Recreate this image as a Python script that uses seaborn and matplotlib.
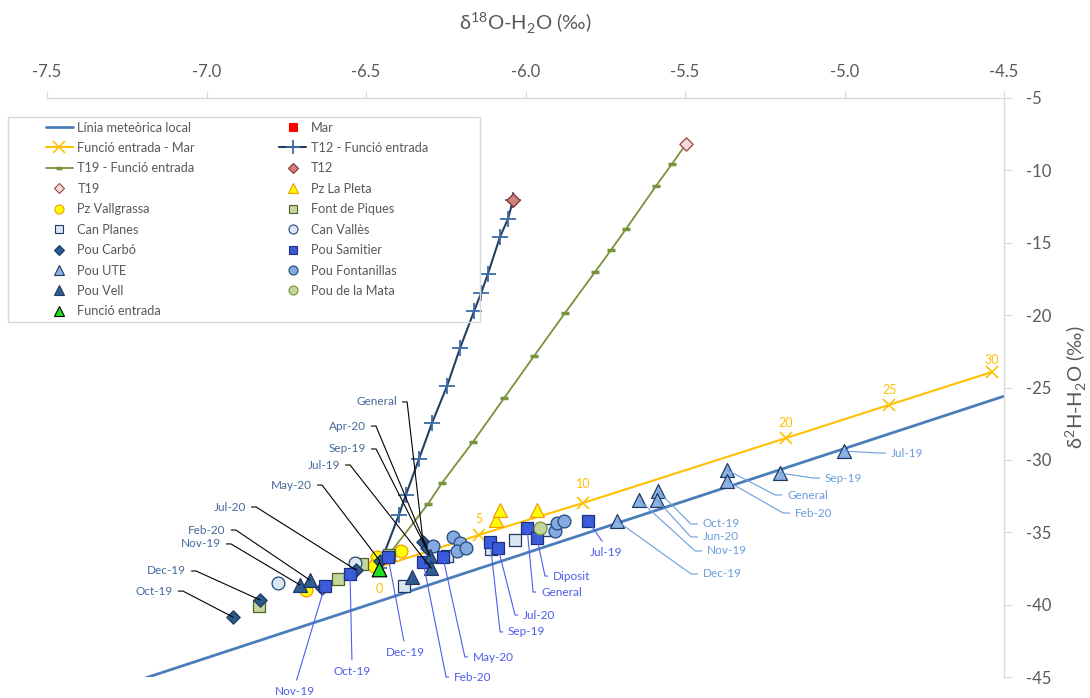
import math
import matplotlib
matplotlib.use("Agg")
import matplotlib.pyplot as plt
from matplotlib.lines import Line2D
from matplotlib.patches import Rectangle
import seaborn as sns

# ---------------- data ----------------
lmwl_x = [-7.5, -4.5]
lmwl_y = [-47.3, -25.6]

mix_mar_pct = ["0", "5", "10", "20", "25", "30"]
mix_mar_x = [-6.459, -6.146, -5.820, -5.183, -4.860, -4.538]
mix_mar_y = [-37.40, -35.19, -32.98, -28.49, -26.20, -23.93]

t12_fe_x = [-6.460, -6.397, -6.375, -6.334, -6.293, -6.246, -6.205, -6.161, -6.139, -6.118, -6.080, -6.055, -6.039]
t12_fe_y = [-37.45, -33.81, -32.43, -29.94, -27.45, -24.90, -22.27, -19.71, -18.47, -17.16, -14.60, -13.36, -12.05]

t19_fe_x = [-6.460, -6.306, -6.262, -6.165, -6.067, -5.973, -5.876, -5.782, -5.732, -5.685, -5.591, -5.541, -5.497]
t19_fe_y = [-37.45, -33.05, -31.60, -28.77, -25.73, -22.82, -19.85, -17.02, -15.50, -14.05, -11.08, -9.56, -8.18]

mar_x, mar_y = [0.0], [7.5]
t12_x, t12_y = [-6.039], [-12.05]
t19_x, t19_y = [-5.497], [-8.18]
pleta_x = [-6.092, -6.080, -5.964]
pleta_y = [-34.15, -33.46, -33.46]
vallgrassa_x = [-6.390, -6.466, -6.475, -6.688]
vallgrassa_y = [-36.30, -36.71, -37.33, -38.99]
piques_x = [-6.835, -6.588, -6.513, -6.428]
piques_y = [-40.10, -38.23, -37.19, -36.57]
planes_x = [-6.381, -6.246, -6.108, -6.033, -5.933]
planes_y = [-38.71, -36.64, -36.16, -35.54, -34.84]
valles_x = [-6.776, -6.534]
valles_y = [-38.51, -37.12]
carbo_x = [-6.917, -6.832, -6.638, -6.531, -6.456, -6.321, -6.309]
carbo_y = [-40.86, -39.68, -38.85, -37.61, -36.99, -35.67, -36.09]
carbo_lab = ["Oct-19", "Dec-19", "", "Jul-20", "May-20", "General", "Apr-20"]
samitier_x = [-6.629, -6.550, -6.431, -6.321, -6.259, -6.111, -6.086, -5.995, -5.964, -5.804]
samitier_y = [-38.71, -37.88, -36.71, -37.06, -36.71, -35.67, -36.09, -34.71, -35.40, -34.22]
samitier_lab = ["Nov-19", "Oct-19", "Dec-19", "Feb-20", "May-20", "Sep-19", "Jul-20", "General", "Diposit", "Jul-19"]
ute_x = [-5.002, -5.202, -5.368, -5.368, -5.585, -5.588, -5.644, -5.713]
ute_y = [-29.39, -30.91, -30.70, -31.46, -32.15, -32.77, -32.77, -34.22]
ute_lab = ["Jul-19", "Sep-19", "General", "Feb-20", "Oct-19", "Jun-20", "Nov-19", "Dec-19"]
fontanillas_x = [-6.290, -6.227, -6.205, -6.215, -6.187, -5.908, -5.901, -5.879]
fontanillas_y = [-35.95, -35.33, -35.74, -36.30, -36.09, -34.91, -34.36, -34.22]
vell_x = [-6.707, -6.676, -6.356, -6.299, -6.296]
vell_y = [-38.64, -38.30, -38.09, -36.64, -37.47]
vell_lab = ["Nov-19", "Feb-20", "", "Sep-19", "Jul-19"]
mata_x, mata_y = [-5.955], [-34.71]
fe_x, fe_y = [-6.459], [-37.54]

x_ticks = [-7.5, -7.0, -6.5, -6.0, -5.5, -5.0, -4.5]
y_ticks = [-45, -40, -35, -30, -25, -20, -15, -10, -5]

# ---------------- style ----------------
DPI = 100
PT = 72.0 / DPI
sns.set_style("white")
plt.rcParams["font.family"] = ["Lato", "DejaVu Sans"]
plt.rcParams["axes.unicode_minus"] = False

GREY = "#595959"
SPINE = "#D9D9D9"
C_LMWL = "#4A7EBB"
C_ORANGE = "#FFC000"
C_T12L = "#243F60"
C_T19L = "#77933C"

fig = plt.figure(figsize=(10.9, 6.98), dpi=DPI)
ax = fig.add_axes([47 / 1090, 21 / 698, 957 / 1090, 579 / 698])

# lines
sns.lineplot(x=lmwl_x, y=lmwl_y, sort=False, estimator=None, color=C_LMWL, lw=2.0, ax=ax, zorder=2)
sns.lineplot(x=mix_mar_x, y=mix_mar_y, sort=False, estimator=None, color=C_ORANGE, lw=1.5,
             marker="x", markersize=9, markeredgecolor=C_ORANGE, markeredgewidth=1.2, ax=ax, zorder=3)
sns.lineplot(x=t12_fe_x, y=t12_fe_y, sort=False, estimator=None, color=C_T12L, lw=1.5,
             marker="+", markersize=12, markeredgecolor="#3B6BA5", markeredgewidth=1.3, ax=ax, zorder=3)
sns.lineplot(x=t19_fe_x, y=t19_fe_y, sort=False, estimator=None, color=C_T19L, lw=1.3,
             marker="_", markersize=6, markeredgecolor=C_T19L, markeredgewidth=2.5, ax=ax, zorder=3)

# point series (drawn in Excel series order)
series = [
    ("Mar", mar_x, mar_y, "s", 60, "#FF0000", "#FF0000"),
    ("T12", t12_x, t12_y, "D", 46, "#CD8380", "#8B2E2E"),
    ("T19", t19_x, t19_y, "D", 46, "#F2DCDB", "#A0413F"),
    ("Pz La Pleta", pleta_x, pleta_y, "^", 100, "#FFFF00", "#F59A00"),
    ("Pz Vallgrassa", vallgrassa_x, vallgrassa_y, "o", 85, "#FFFF00", "#F59A00"),
    ("Font de Piques", piques_x, piques_y, "s", 80, "#C3D69B", "#4F6228"),
    ("Can Planes", planes_x, planes_y, "s", 80, "#DCE6F2", "#1F3864"),
    ("Can Vallès", valles_x, valles_y, "o", 85, "#DCE6F2", "#1F497D"),
    ("Pou Carbó", carbo_x, carbo_y, "D", 46, "#2E5A8C", "#1F3864"),
    ("Pou Samitier", samitier_x, samitier_y, "s", 80, "#3A5CDB", "#1F2F7F"),
    ("Pou UTE", ute_x, ute_y, "^", 100, "#8DB3E2", "#1F3864"),
    ("Pou Fontanillas", fontanillas_x, fontanillas_y, "o", 85, "#84AADF", "#1F497D"),
    ("Pou Vell", vell_x, vell_y, "^", 100, "#2F5C92", "#1F3864"),
    ("Pou de la Mata", mata_x, mata_y, "o", 85, "#C3D69B", "#77933C"),
    ("Funció entrada", fe_x, fe_y, "^", 110, "#22DD22", "#000000"),
]
for i, (name, xs, ys, mk, s, fc, ec) in enumerate(series):
    sns.scatterplot(x=xs, y=ys, marker=mk, s=s, color=fc, edgecolor=ec, linewidth=0.9,
                    ax=ax, legend=False, zorder=5 + i * 0.1)

# axes
ax.set_xlim(-7.5, -4.5)
ax.set_ylim(-45, -5)
ax.set_xticks(x_ticks)
ax.set_xticklabels([f"{v:.1f}" for v in x_ticks])
ax.set_yticks(y_ticks)
ax.set_yticklabels([f"{v:d}" for v in y_ticks])
ax.xaxis.tick_top()
ax.yaxis.tick_right()
for sp in ["left", "bottom"]:
    ax.spines[sp].set_visible(False)
for sp in ["top", "right"]:
    ax.spines[sp].set_visible(True)
    ax.spines[sp].set_color(SPINE)
    ax.spines[sp].set_linewidth(1.0)
ax.tick_params(axis="x", which="both", top=True, bottom=False, direction="out", length=5,
               color=SPINE, labelcolor=GREY, labelsize=12, pad=8)
ax.tick_params(axis="y", which="both", right=True, left=False, direction="out", length=6,
               color=SPINE, labelcolor=GREY, labelsize=12, pad=10)
ax.grid(False)
ax.set_facecolor("none")

ax.set_xlabel(r"δ$^{\mathregular{18}}$O-H$_{\mathregular{2}}$O (‰)", fontsize=14.5, color=GREY)
ax.xaxis.set_label_position("top")
ax.xaxis.set_label_coords(0.5, 1.129)
ax.xaxis.label.set_va("center")
ax.set_ylabel(r"δ$^{\mathregular{2}}$H-H$_{\mathregular{2}}$O (‰)", fontsize=14.5, color=GREY)
ax.yaxis.set_label_position("right")
ax.yaxis.set_label_coords(1.0752, 0.5)
ax.yaxis.label.set_va("center")
ax.yaxis.label.set_ha("center")

# ---------------- annotations ----------------
LAB_FS = 8.5


def elbow_label(x, y, text, dx, dy, color, lcolor, side, h=10, fs=LAB_FS):
    if side == "left":
        ha, relpos, cx = "right", (1, 0.5), dx + h
    else:
        ha, relpos, cx = "left", (0, 0.5), dx - h
    angb = math.degrees(math.atan2(dy, cx))
    ax.annotate(text, xy=(x, y), xytext=(dx * PT, dy * PT), textcoords="offset points",
                ha=ha, va="center", fontsize=fs, color=color, zorder=30, annotation_clip=False,
                arrowprops=dict(arrowstyle="-", color=lcolor, lw=0.8, shrinkA=1.5, shrinkB=0,
                                relpos=relpos,
                                connectionstyle=f"angle,angleA=0,angleB={angb:.3f},rad=0"))


def below_label(x, y, text, dx, dy, color, lcolor, fs=LAB_FS):
    ax.annotate(text, xy=(x, y), xytext=(dx * PT, dy * PT), textcoords="offset points",
                ha="center", va="top", fontsize=fs, color=color, zorder=30, annotation_clip=False,
                arrowprops=dict(arrowstyle="-", color=lcolor, lw=0.8, shrinkA=2, shrinkB=0,
                                relpos=(0.5, 1), connectionstyle="arc3"))

# pixel offsets of label text from its point (x right, y up)
C_DARKLAB = "#46699A"
carbo_off = {"Oct-19": (-60, 26), "Dec-19": (-74, 29), "Jul-20": (-110, 63),
             "May-20": (-68, 76), "General": (-26, 140), "Apr-20": (-61, 122)}
vell_off = {"Nov-19": (-79, 41), "Feb-20": (-84, 50), "Sep-19": (-64, 107), "Jul-19": (-91, 103)}
for xs, ys, labs, off in [(carbo_x, carbo_y, carbo_lab, carbo_off), (vell_x, vell_y, vell_lab, vell_off)]:
    for x, y, t in zip(xs, ys, labs):
        if t:
            dx, dy = off[t]
            elbow_label(x, y, t, dx, dy, C_DARKLAB, "#000000", "left")

C_SAMLAB = "#4C5EEB"
sam_below = {"Nov-19": (-30, -100), "Oct-19": (2, -92), "Dec-19": (17, -90), "Jul-19": (18, -26)}
sam_elbow = {"Feb-20": (31, -115), "May-20": (30, -100), "Sep-19": (18, -90),
             "Jul-20": (25, -67), "General": (14, -64), "Diposit": (16, -38)}
for x, y, t in zip(samitier_x, samitier_y, samitier_lab):
    if t in sam_below:
        dx, dy = sam_below[t]
        below_label(x, y, t, dx, dy, C_SAMLAB, C_SAMLAB)
    else:
        dx, dy = sam_elbow[t]
        elbow_label(x, y, t, dx, dy, C_SAMLAB, C_SAMLAB, "right", h=8)

C_UTELAB = "#6A9EDB"
ute_off = {"Jul-19": (47, -2), "Sep-19": (45, -5), "General": (60, -25), "Feb-20": (68, -32),
           "Oct-19": (45, -33), "Jun-20": (46, -37), "Nov-19": (68, -51), "Dec-19": (86, -53)}
for x, y, t in zip(ute_x, ute_y, ute_lab):
    dx, dy = ute_off[t]
    elbow_label(x, y, t, dx, dy, C_UTELAB, C_UTELAB, "right", h=12)

pct_dy = {"0": -22, "5": 16, "10": 19, "20": 15, "25": 15, "30": 12}
for x, y, t in zip(mix_mar_x, mix_mar_y, mix_mar_pct):
    ax.annotate(t, xy=(x, y), xytext=(0, pct_dy[t] * PT), textcoords="offset points",
                ha="center", va="center", fontsize=9, color=C_ORANGE, zorder=30, annotation_clip=False)

# ---------------- legend ----------------
def mk(marker, face, edge, ms):
    return Line2D([], [], ls="none", marker=marker, markerfacecolor=face,
                  markeredgecolor=edge, markersize=ms, markeredgewidth=0.8)

h_left = [
    (Line2D([], [], color=C_LMWL, lw=2.0), "Línia meteòrica local"),
    (Line2D([], [], color=C_ORANGE, lw=1.5, marker="x", ms=8, mec=C_ORANGE, mew=1.2), "Funció entrada - Mar"),
    (Line2D([], [], color=C_T19L, lw=1.3, marker="_", ms=5, mec=C_T19L, mew=2.5), "T19 - Funció entrada"),
    (mk("D", "#F2DCDB", "#A0413F", 5), "T19"),
    (mk("o", "#FFFF00", "#F59A00", 6.5), "Pz Vallgrassa"),
    (mk("s", "#DCE6F2", "#1F3864", 6), "Can Planes"),
    (mk("D", "#2E5A8C", "#1F3864", 5), "Pou Carbó"),
    (mk("^", "#8DB3E2", "#1F3864", 7), "Pou UTE"),
    (mk("^", "#2F5C92", "#1F3864", 7), "Pou Vell"),
    (mk("^", "#22DD22", "#000000", 7), "Funció entrada"),
]
h_right = [
    (mk("s", "#FF0000", "#FF0000", 6), "Mar"),
    (Line2D([], [], color=C_T12L, lw=1.5, marker="+", ms=10, mec="#3B6BA5", mew=1.3), "T12 - Funció entrada"),
    (mk("D", "#CD8380", "#8B2E2E", 5), "T12"),
    (mk("^", "#FFFF00", "#F59A00", 7), "Pz La Pleta"),
    (mk("s", "#C3D69B", "#4F6228", 6), "Font de Piques"),
    (mk("o", "#DCE6F2", "#1F497D", 6.5), "Can Vallès"),
    (mk("s", "#3A5CDB", "#1F2F7F", 6), "Pou Samitier"),
    (mk("o", "#84AADF", "#1F497D", 6.5), "Pou Fontanillas"),
    (mk("o", "#C3D69B", "#77933C", 6.5), "Pou de la Mata"),
]
items = h_left + h_right
fig.legend([h for h, _ in items], [l for _, l in items], ncol=2, loc="upper left",
           bbox_to_anchor=(34.5 / 1090, 1 - 110 / 698), frameon=False, fontsize=9.2,
           handlelength=2.1, handletextpad=0.35, labelspacing=0.66, columnspacing=6.6,
           borderpad=0.4, labelcolor=GREY)
fig.patches.append(Rectangle((8 / 1090, 1 - 322 / 698), 472 / 1090, 205 / 698,
                             transform=fig.transFigure, fill=False, edgecolor=SPINE, lw=1.0))

fig.savefig("out.png", dpi=DPI)
